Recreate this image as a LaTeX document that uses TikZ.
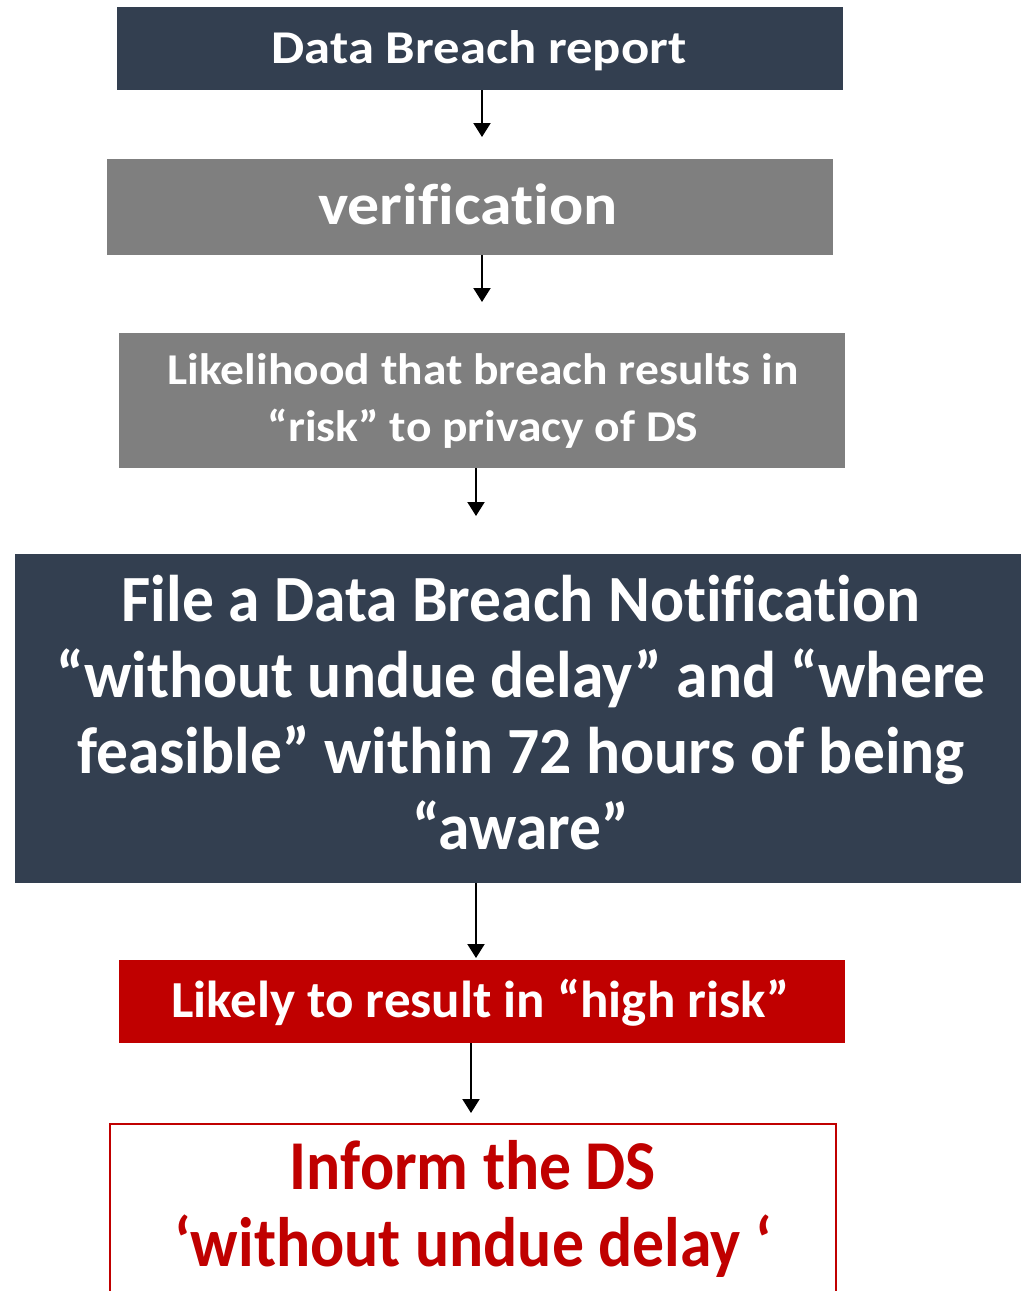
\documentclass[tikz,border=0pt]{standalone}
\usepackage{fontspec}
\usepackage{graphicx}
\setmainfont{Carlito}[Ligatures=NoCommon]
\usetikzlibrary{arrows.meta}
\definecolor{navy}{HTML}{333F50}
\definecolor{grayb}{HTML}{7F7F7F}
\definecolor{redb}{HTML}{C00000}
\newcommand\boxtxt[4]{\scalebox{#3}[1]{\parbox[t]{1200pt}{\centering\fontsize{#1}{#2}\selectfont\lineskiplimit=-100pt\relax #4}}}
\tikzset{
  box/.style={rectangle, inner sep=0pt},
  txt/.style={inner sep=0pt, anchor=base, text=white, font=\bfseries},
  arr/.style={line width=2pt, -{Triangle[width=17pt,length=14pt]}},
}
\begin{document}
\begin{tikzpicture}[x=1pt,y=-1pt]
\useasboundingbox (0,0) rectangle (1021,1291);
\node[box, fill=navy, minimum width=726pt, minimum height=83pt] (b1) at (480,48.5) {};
\node[box, fill=grayb, minimum width=726pt, minimum height=96pt] (b2) at (470,207) {};
\node[box, fill=grayb, minimum width=726pt, minimum height=135pt] (b3) at (482,400.5) {};
\node[box, fill=navy, minimum width=1006pt, minimum height=329pt] (b4) at (518,718.5) {};
\node[box, fill=redb, minimum width=726pt, minimum height=83pt] (b5) at (482,1001.5) {};
\node[box, draw=redb, line width=2pt, fill=white, minimum width=726pt, minimum height=187pt,
  anchor=north west] (b6) at (109,1123) {};
\node[txt] (t1) at (479,63) {\boxtxt{47}{56}{1.12}{Data Breach report}};
\node[txt] (t2) at (468,224) {\boxtxt{58}{70}{1.10}{verification}};
\node[txt] (t3) at (483,384) {\boxtxt{44}{57}{1.08}{Likelihood that breach results in\\“risk” to privacy of DS}};
\node[txt] (t4) at (521,621) {\boxtxt{66}{76}{0.963}{File a Data Breach Notification\\“without undue delay” and “where\\feasible” within 72 hours of being\\“aware”}};
\node[txt] (t5) at (480,1017) {\boxtxt{52}{60}{1.02}{Likely to result in “high risk”}};
\node[txt, text=redb] (t6) at (473,1189) {\boxtxt{70}{77}{0.91}{Inform the DS\\‘without undue delay ‘}};
\coordinate (e1) at (482,137);
\coordinate (e2) at (482,302);
\coordinate (e3) at (476,516);
\coordinate (e4) at (476,958);
\coordinate (e5) at (471,1113);
\draw[arr] (b1.south -| e1) -- (e1);
\draw[arr] (b2.south -| e2) -- (e2);
\draw[arr] (b3.south -| e3) -- (e3);
\draw[arr] (b4.south -| e4) -- (e4);
\draw[arr] (b5.south -| e5) -- (e5);
\end{tikzpicture}
\end{document}
